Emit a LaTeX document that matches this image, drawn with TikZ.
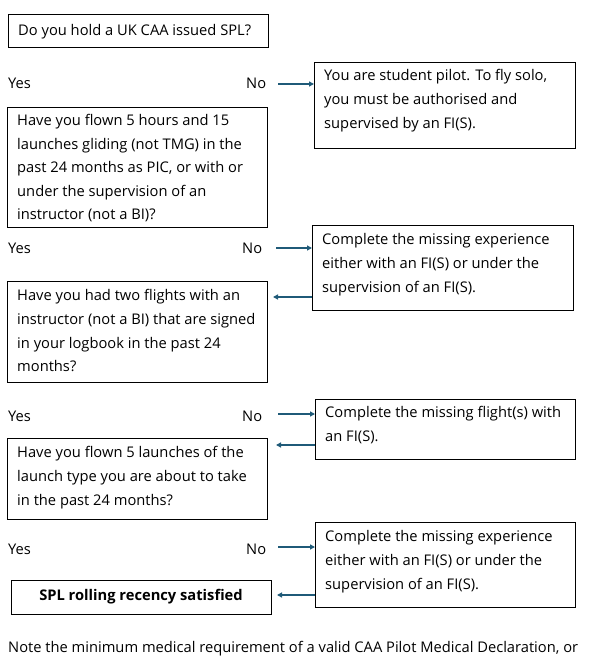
\documentclass[tikz,border=0pt]{standalone}
\usepackage{fontspec}
\setmainfont{Open Sans}
\usetikzlibrary{arrows.meta}
\definecolor{arrc}{HTML}{1F5A78}
\tikzset{
  box/.style={draw=black, line width=0.9pt, anchor=north west, inner sep=0pt},
  txt/.style={anchor=north west, align=left, inner sep=0pt, font=\fontsize{14.7pt}{23.6pt}\selectfont},
  lbl/.style={anchor=west, inner sep=0pt, font=\fontsize{14.7pt}{18pt}\selectfont},
  arr/.style={draw=arrc, line width=1.4pt, -{Triangle[length=5pt,width=5pt]}},
}
\begin{document}
\begin{tikzpicture}[x=1pt,y=-1pt]
\useasboundingbox (0,0) rectangle (592,660);
% boxes
\node[box, minimum width=260pt, minimum height=33pt] (q1) at (8,14) {};
\node[txt] (q1t) at (18,24) {Do you hold a UK CAA issued SPL?};
\node[box, minimum width=261pt, minimum height=86pt] (r1) at (314,62) {};
\node[txt] (r1t) at (324,69.5) {You are student pilot. To fly solo,\\you must be authorised and\\supervised by an FI(S).};
\node[box, minimum width=260pt, minimum height=120pt] (q2) at (7,107) {};
\node[txt] (q2t) at (17,114) {Have you flown 5 hours and 15\\launches gliding (not TMG) in the\\past 24 months as PIC, or with or\\under the supervision of an\\instructor (not a BI)?};
\node[box, minimum width=261pt, minimum height=85pt] (r2) at (312,225) {};
\node[txt] (r2t) at (322,233.5) {Complete the missing experience\\either with an FI(S) or under the\\supervision of an FI(S).};
\node[box, minimum width=260pt, minimum height=101pt] (q3) at (7,281) {};
\node[txt] (q3t) at (17,289.5) {Have you had two flights with an\\instructor (not a BI) that are signed\\in your logbook in the past 24\\months?};
\node[box, minimum width=260pt, minimum height=60pt] (r3) at (315,399) {};
\node[txt] (r3t) at (325,406.5) {Complete the missing flight(s) with\\an FI(S).};
\node[box, minimum width=260pt, minimum height=81pt] (q4) at (7,438) {};
\node[txt] (q4t) at (17,446.5) {Have you flown 5 launches of the\\launch type you are about to take\\in the past 24 months?};
\node[box, minimum width=260pt, minimum height=85pt] (r4) at (315,522) {};
\node[txt] (r4t) at (325,530.5) {Complete the missing experience\\either with an FI(S) or under the\\supervision of an FI(S).};
\node[box, minimum width=260pt, minimum height=34pt] (ok) at (11,580) {};
\node[anchor=center, inner sep=0pt, font=\fontsize{14.7pt}{18pt}\selectfont\bfseries] (okt) at (141,597) {SPL rolling recency satisfied};
% yes / no labels
\node[lbl] (y1) at (8,83) {Yes};
\node[lbl] (n1) at (246,83) {No};
\node[lbl] (y2) at (8,248) {Yes};
\node[lbl] (n2) at (242,248) {No};
\node[lbl] (y3) at (8,416) {Yes};
\node[lbl] (n3) at (242,416) {No};
\node[lbl] (y4) at (8,549) {Yes};
\node[lbl] (n4) at (246,549) {No};
% connectors
\coordinate (c1) at (278,84);
\draw[arr] (c1) -- (r1.west |- c1);
\coordinate (c2) at (276,248);
\draw[arr] (c2) -- (r2.west |- c2);
\coordinate (d2) at (273,297);
\draw[arr] (r2.west |- d2) -- (d2);
\coordinate (c3) at (278,414);
\draw[arr] (c3) -- (r3.west |- c3);
\coordinate (d3) at (276,445);
\draw[arr] (r3.west |- d3) -- (d3);
\coordinate (c4) at (278,547);
\draw[arr] (c4) -- (r4.west |- c4);
\coordinate (d4) at (277,595);
\draw[arr] (r4.west |- d4) -- (d4);
% note
\node[lbl] (note) at (8,649) {Note the minimum medical requirement of a valid CAA Pilot Medical Declaration, or};
\end{tikzpicture}
\end{document}
